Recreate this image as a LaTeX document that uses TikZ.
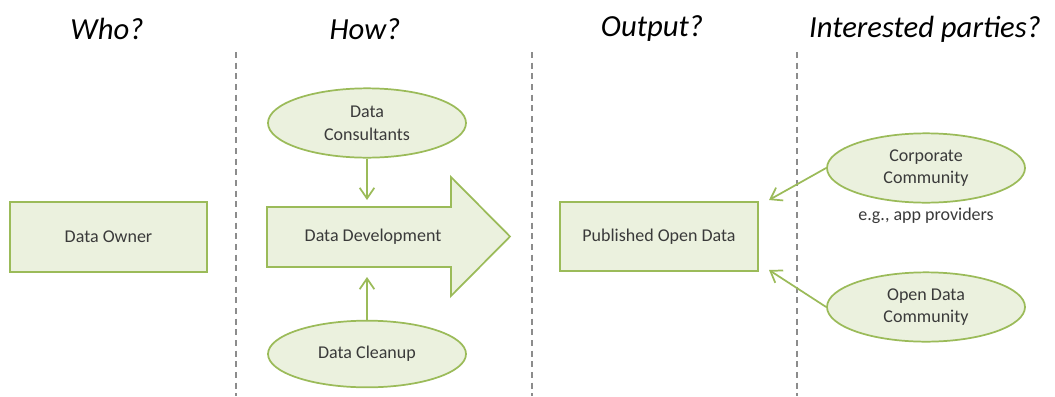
\documentclass[tikz,border=0pt]{standalone}
\usepackage{fontspec}
\setmainfont{Carlito}
\usepackage{xcolor}
\usetikzlibrary{shapes.geometric, arrows.meta}

\definecolor{leaf}{HTML}{EBF1DE}
\definecolor{olive}{HTML}{9BBB59}
\definecolor{ink}{HTML}{3A3A3A}
\definecolor{rule}{HTML}{8C8C8C}

\tikzstyle{box} = [draw=olive, fill=leaf, line width=1.3pt, inner sep=0pt, text=ink, font=\fontsize{13.5}{17}\selectfont]
\tikzstyle{oval} = [box, ellipse, align=center, minimum width=148.5pt, minimum height=52pt]
\tikzstyle{head} = [font=\fontsize{23}{27}\selectfont\itshape, text=black]
\tikzstyle{arrow} = [draw=olive, line width=1.3pt, -{Straight Barb[length=8pt,width=11pt]}]

\begin{document}
\begin{tikzpicture}[x=0.75pt, y=-0.75pt]
		\useasboundingbox (0,0) rectangle (1055,396);

		% column titles
		\node[head] (who) at (107,29) {Who?};
		\node[head] (how) at (365,29) {How?};
		\node[head] (output) at (652,29) {Output?};
		\node[head] (parties) at (925,29) {Interested parties?};

		% column separators
		\foreach \x in {236,532,797}
			\draw[rule, line width=1pt, dash pattern=on 4.5pt off 3.5pt] (\x,52) -- (\x,396);

		% who
		\node[box, minimum width=147.75pt, minimum height=52.5pt] (owner) at (108.5,237) {Data Owner};

		% how
		\draw[draw=olive, fill=leaf, line width=1.3pt] (267,207) -- (451,207) -- (451,177) -- (510,236.5)
			-- (451,296) -- (451,267) -- (267,267) -- cycle;
		\node[text=ink, font=\fontsize{13.5}{17}\selectfont] (dev) at (373,237) {Data Development};
		\coordinate (devtop) at (367,200);
		\coordinate (devbot) at (367,277);

		\node[oval] (consult) at (367,123) {Data\\Consultants};
		\node[oval, minimum height=50pt] (cleanup) at (367,354) {Data Cleanup};
		\draw[arrow] (consult.south) -- (devtop);
		\draw[arrow] (cleanup.north) -- (devbot);

		% output
		\node[box, minimum width=148.5pt, minimum height=52pt] (published) at (659,236.5) {Published Open Data};
		\coordinate (pubup) at (769,200);
		\coordinate (pubdown) at (769,270);

		% interested parties
		\node[oval] (corporate) at (926,168) {Corporate\\Community};
		\node[text=ink, font=\fontsize{13.5}{17}\selectfont] (apps) at (926,216) {e.g., app providers};
		\node[oval] (community) at (926,307) {Open Data\\Community};
		\draw[arrow] (corporate.west) -- (pubup);
		\draw[arrow] (community.west) -- (pubdown);
	\end{tikzpicture}
\end{document}
